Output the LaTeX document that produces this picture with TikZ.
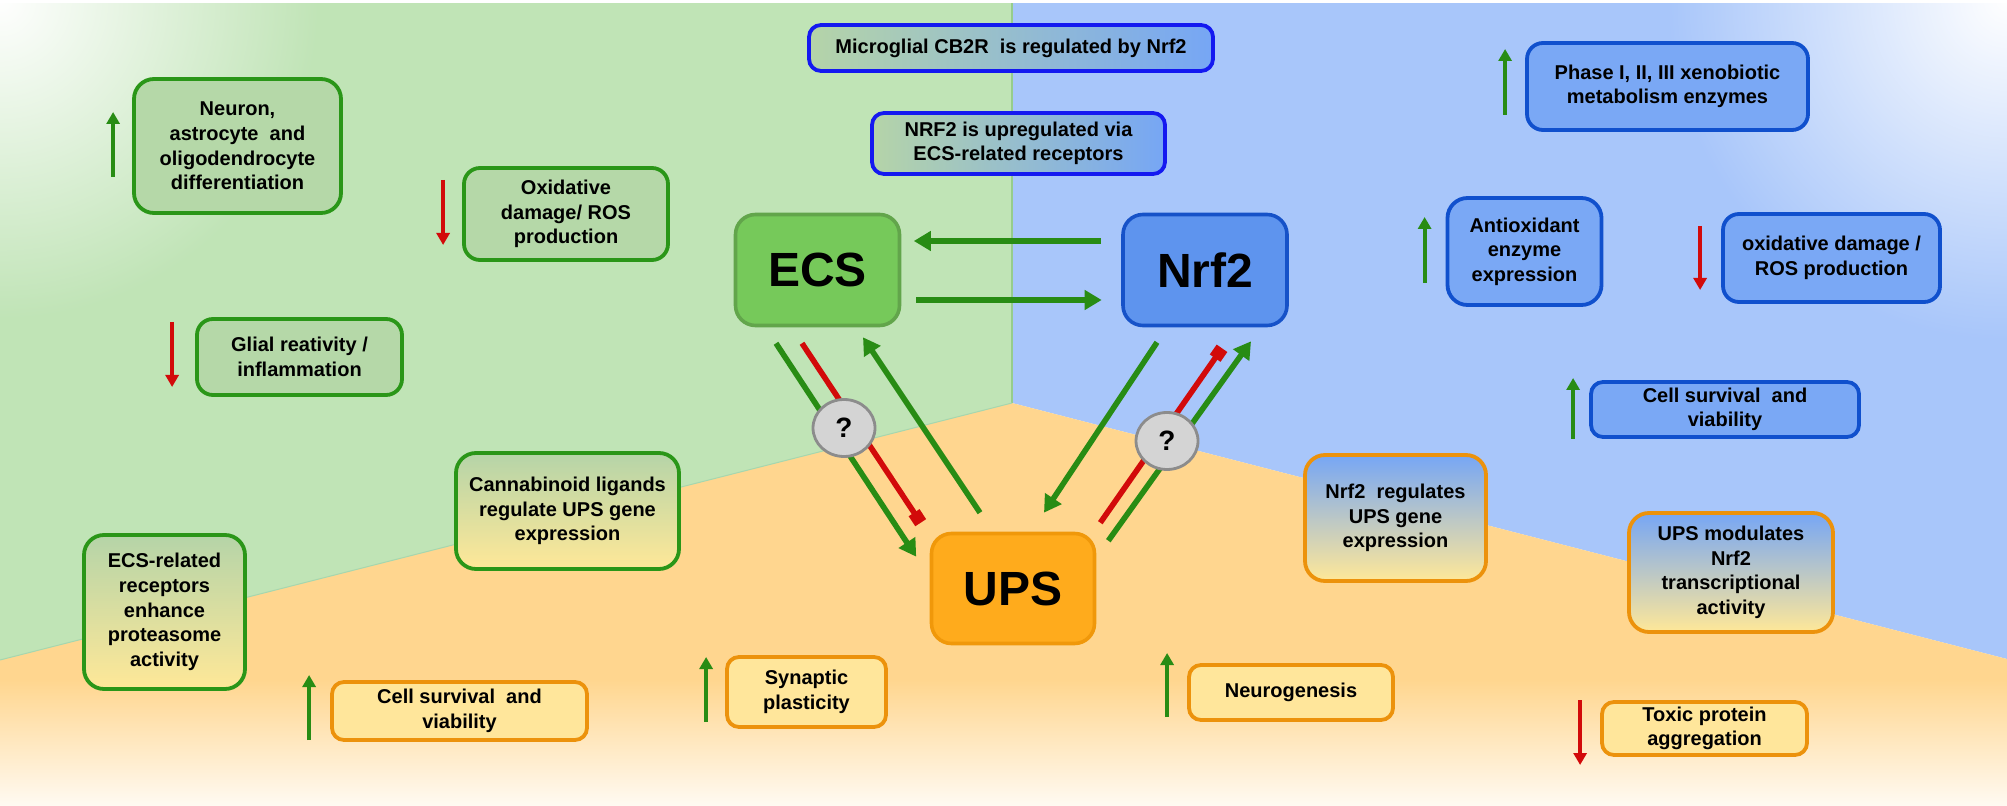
\documentclass[tikz,border=0pt]{standalone}
\usepackage{fontspec}
\setmainfont{Liberation Sans}
\usetikzlibrary{arrows.meta,calc,fadings,shapes.geometric}

\definecolor{bggreen}{RGB}{192,228,182}
\definecolor{bgblue}{RGB}{168,198,250}
\definecolor{bgorange}{RGB}{255,214,143}
\definecolor{bgbottom}{RGB}{255,250,242}
\definecolor{gfill}{RGB}{181,216,168}
\definecolor{gline}{RGB}{42,150,24}
\definecolor{bfill}{RGB}{122,168,245}
\definecolor{bline}{RGB}{16,80,205}
\definecolor{ofill}{RGB}{255,230,155}
\definecolor{oline}{RGB}{236,146,12}
\definecolor{arrgreen}{RGB}{40,140,20}
\definecolor{arrred}{RGB}{210,10,10}
\definecolor{mixgreen}{RGB}{181,212,168}
\definecolor{mixyellow}{RGB}{255,232,152}
\definecolor{mixblue}{RGB}{118,166,245}
\definecolor{pureblue}{RGB}{20,25,240}
\definecolor{ecsfill}{RGB}{118,201,90}
\definecolor{ecsline}{RGB}{98,165,75}
\definecolor{nrffill}{RGB}{94,148,238}
\definecolor{nrfline}{RGB}{22,82,200}
\definecolor{upsfill}{RGB}{255,171,28}
\definecolor{upsline}{RGB}{240,152,10}
\definecolor{qfill}{RGB}{212,212,212}
\definecolor{qline}{RGB}{140,140,140}
\definecolor{seamgreen}{RGB}{150,205,140}
\definecolor{seamcyan}{RGB}{165,215,175}

\tikzfading[name=cornerfade, inner color=transparent!0, outer color=transparent!100]

\tikzset{
  base/.style={rounded corners=8pt, line width=1.9pt, align=center, inner sep=2pt,
    font=\fontsize{10}{12.3}\selectfont\bfseries},
  gbox/.style={base, draw=gline, fill=gfill},
  bbox/.style={base, draw=bline, fill=bfill},
  obox/.style={base, draw=oline, fill=ofill, rounded corners=6pt},
  gobox/.style={base, draw=gline, top color=mixgreen, bottom color=mixyellow},
  bobox/.style={base, draw=oline, top color=mixblue, bottom color=mixyellow},
  gbbox/.style={base, draw=pureblue, left color=mixgreen, right color=mixblue, rounded corners=6pt},
  bigbox/.style={rounded corners=10pt, line width=1.8pt, font=\fontsize{24}{28}\selectfont\bfseries},
  qnode/.style={ellipse, draw=qline, fill=qfill, line width=1.4pt, minimum width=31pt,
    minimum height=28.5pt, inner sep=0pt, font=\fontsize{14}{16}\selectfont\bfseries},
  garr/.style={draw=arrgreen, line width=2.8pt, -{Triangle[length=8.5pt,width=9.5pt]}},
  rinh/.style={draw=arrred, line width=2.8pt, -{Square[length=6pt,width=6.5pt]}},
  upg/.style={draw=arrgreen, line width=2pt, -{Triangle[length=6pt,width=6.5pt]}},
  downr/.style={draw=arrred, line width=2pt, -{Triangle[length=6pt,width=6.5pt]}}
}

\begin{document}
\begin{tikzpicture}[x=0.5pt,y=-0.5pt]
\useasboundingbox (0,0) rectangle (2007,806);

% ---------- background regions ----------
\fill[bggreen] (0,0) -- (1012,0) -- (1012,403) -- (0,660) -- cycle;
\fill[bgblue] (1012,0) -- (2007,0) -- (2007,659) -- (1012,403) -- cycle;
\fill[bgorange] (0,660) -- (1012,403) -- (2007,659) -- (2007,806) -- (0,806) -- cycle;
\shade[top color=bgorange, bottom color=bgbottom] (0,680) rectangle (2007,806);
\begin{scope}
  \clip (0,0) -- (1012,0) -- (1012,403) -- (0,660) -- cycle;
  \fill[white, path fading=cornerfade] (0,0) circle[radius=160pt];
\end{scope}
\begin{scope}
  \clip (1012,0) -- (2007,0) -- (2007,659) -- (1012,403) -- cycle;
  \fill[white, path fading=cornerfade] (2007,0) circle[radius=170pt];
\end{scope}
\draw[seamgreen, line width=0.6pt] (1012,0) -- (1012,403);
\draw[seamcyan, line width=0.5pt] (0,660) -- (1012,403);
\fill[white] (0,0) rectangle (2007,3);

% ---------- central nodes ----------
\node[bigbox, draw=ecsline, fill=ecsfill, minimum width=82pt, minimum height=55.5pt] (ECS) at (817.5,270) {ECS};
\node[bigbox, draw=nrfline, fill=nrffill, minimum width=82pt, minimum height=55.5pt] (NRF) at (1205,270) {Nrf2};
\node[bigbox, draw=upsline, fill=upsfill, minimum width=81.5pt, minimum height=55pt] (UPS) at (1013,588.5) {UPS};

% ---------- top mixed boxes ----------
\node[gbbox, minimum width=202pt, minimum height=23pt] (mic) at (1011,48) {Microglial CB2R\ \ is regulated by Nrf2};
\node[gbbox, minimum width=146.5pt, minimum height=30.5pt] (nrfup) at (1018.5,143.5) {NRF2 is upregulated via\\ECS-related receptors};

% ---------- green region boxes ----------
\node[gbox, rounded corners=10pt, minimum width=103.5pt, minimum height=67pt] (neur) at (237.5,146) {Neuron,\\astrocyte\ \ and\\oligodendrocyte\\differentiation};
\node[gbox, minimum width=102pt, minimum height=46pt] (oxl) at (566,214) {Oxidative\\damage/ ROS\\production};
\node[gbox, minimum width=102.5pt, minimum height=38pt] (glial) at (299.5,357) {Glial reativity /\\inflammation};
\node[gobox, rounded corners=10pt, minimum width=111.5pt, minimum height=58pt] (cann) at (567.5,511) {Cannabinoid ligands\\regulate UPS gene\\expression};
\node[gobox, rounded corners=10pt, minimum width=80.5pt, minimum height=77pt] (ecsrec) at (164.5,612) {ECS-related\\receptors\\enhance\\proteasome\\activity};

% ---------- orange region boxes ----------
\node[obox, minimum width=127.5pt, minimum height=29pt] (csl) at (459.5,711) {Cell survival\ \ and\\viability};
\node[obox, minimum width=79.5pt, minimum height=35pt] (syn) at (806.5,692) {Synaptic\\plasticity};
\node[obox, minimum width=102pt, minimum height=27.5pt] (neurog) at (1291,692.5) {Neurogenesis};
\node[obox, minimum width=102.5pt, minimum height=26.5pt] (toxic) at (1704.5,728.5) {Toxic protein\\aggregation};
\node[bobox, rounded corners=10pt, minimum width=90.5pt, minimum height=63pt] (nrfreg) at (1395.5,518) {Nrf2\ \ regulates\\UPS gene\\expression};
\node[bobox, rounded corners=10pt, minimum width=102pt, minimum height=59.5pt] (upsmod) at (1731,572.5) {UPS modulates\\Nrf2\\transcriptional\\activity};

% ---------- blue region boxes ----------
\node[bbox, minimum width=140.5pt, minimum height=43.5pt] (phase) at (1667.5,86.5) {Phase I, II, III xenobiotic\\metabolism enzymes};
\node[bbox, rounded corners=10pt, minimum width=77pt, minimum height=53.5pt] (antiox) at (1524.5,251.5) {Antioxidant\\enzyme\\expression};
\node[bbox, minimum width=108.5pt, minimum height=44pt] (oxr) at (1831.5,258) {oxidative damage /\\ROS production};
\node[bbox, rounded corners=6pt, minimum width=134pt, minimum height=27.5pt] (csr) at (1725,409.5) {Cell survival\ \ and\\viability};

% ---------- up / down indicator arrows ----------
\draw[upg] ($(neur.west)+(-19,31)$) -- ($(neur.west)+(-19,-34)$);
\draw[downr] ($(oxl.west)+(-19,-34)$) -- ($(oxl.west)+(-19,31)$);
\draw[downr] ($(glial.west)+(-23,-35)$) -- ($(glial.west)+(-23,30)$);
\draw[upg] ($(csl.west)+(-21,29)$) -- ($(csl.west)+(-21,-36)$);
\draw[upg] ($(syn.west)+(-19,30)$) -- ($(syn.west)+(-19,-35)$);
\draw[upg] ($(neurog.west)+(-20,24.5)$) -- ($(neurog.west)+(-20,-39.5)$);
\draw[downr] ($(toxic.west)+(-20,-28.5)$) -- ($(toxic.west)+(-20,36.5)$);
\draw[upg] ($(csr.west)+(-16,29.5)$) -- ($(csr.west)+(-16,-31.5)$);
\draw[upg] ($(antiox.west)+(-21,31.5)$) -- ($(antiox.west)+(-21,-34.5)$);
\draw[downr] ($(oxr.west)+(-21,-32)$) -- ($(oxr.west)+(-21,32)$);
\draw[upg] ($(phase.west)+(-20,28.5)$) -- ($(phase.west)+(-20,-37.5)$);

% ---------- connectors between main nodes ----------
\draw[garr] ([xshift=-10.25pt,yshift=14.5pt]NRF.west) -- ([xshift=6.25pt,yshift=14.5pt]ECS.east);
\draw[garr] ([xshift=7.5pt,yshift=-15pt]ECS.east) -- ([xshift=-9.75pt,yshift=-15pt]NRF.west);

\draw[garr] ($(ECS.south)+(-41.5,16)$) -- ($(UPS.north west)+(-13.5,25)$);
\draw[rinh] ($(ECS.south)+(-15.5,16)$) -- ($(UPS.north west)+(-9,-9)$);
\draw[garr] ($(UPS.north)+(-33,-19)$) -- ($(ECS.south)+(45.5,10)$);

\draw[garr] ($(NRF.south)+(-48,15)$) -- ($(UPS.north)+(31,-19)$);
\draw[rinh] ($(UPS.north east)+(4,-9)$) -- ($(NRF.south)+(17,21)$);
\draw[garr] ($(UPS.north east)+(12,9)$) -- ($(NRF.south)+(46,14)$);

% ---------- question marks ----------
\node[qnode] (q1) at (844,428) {?};
\node[qnode] (q2) at (1167,441) {?};
\end{tikzpicture}
\end{document}
